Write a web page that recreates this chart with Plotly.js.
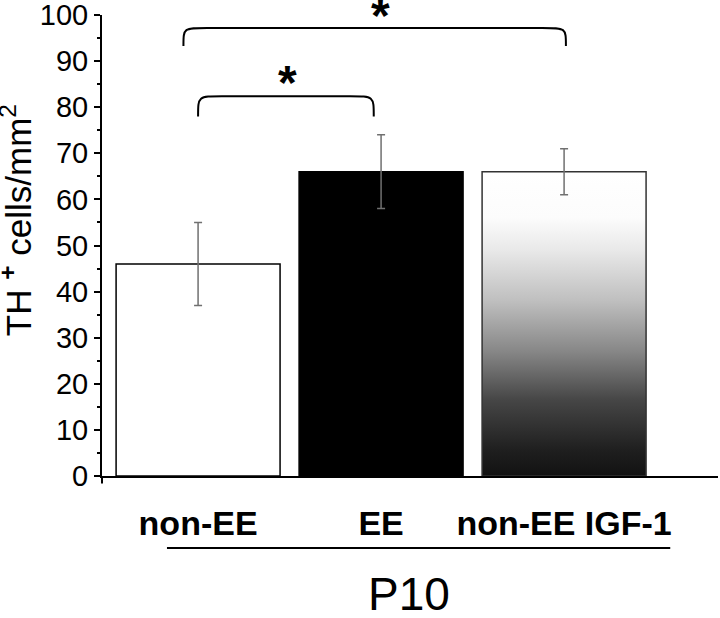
<!DOCTYPE html>
<html>
<head>
<meta charset="utf-8">
<script src="https://cdn.plot.ly/plotly-3.0.1.min.js"></script>
<style>html,body{margin:0;padding:0;background:#fff;}#chart{width:720px;height:618px;}</style>
</head>
<body>
<div id="chart"></div>
<script>
// ---- data ----
const categories = ['non-EE', 'EE', 'non-EE IGF-1'];
const means = [46, 66, 66];
const errors = [9, 8, 5];
const groupLabel = 'P10';
const yTitle = 'TH <sup><b>+</b></sup> cells/mm<sup>2</sup>';
const yTickVals = [0, 10, 20, 30, 40, 50, 60, 70, 80, 90, 100];
// significance brackets: [left x, right x] in category units, top value, drop
const bracketLeft = [0.0, -0.08];
const bracketRight = [0.96, 2.01];
const bracketTop = [82.4, 97.2];
const bracketDrop = [4.4, 3.9];
const starText = ['*', '*'];
const starX = [0.49, 0.995];

// ---- layout constants ----
const starYPaper = [0.8525, 1.0];
const barWidth = 0.896;
const idx = categories.map((_, i) => i);
const gradIdx = 2;

const font = 'Liberation Sans, Arial, Helvetica, sans-serif';

const barTrace = {
  type: 'bar',
  x: idx,
  y: means,
  width: barWidth,
  marker: {
    color: ['#ffffff', '#000000', 'rgba(0,0,0,0)'],
    line: {color: ['#000000', '#000000', 'rgba(0,0,0,0)'], width: 1.5}
  },
  hoverinfo: 'skip',
  showlegend: false
};

// gradient-filled bar polygon for the third group
const gx0 = idx[gradIdx] - barWidth / 2, gx1 = idx[gradIdx] + barWidth / 2;
const gradTrace = {
  type: 'scatter',
  mode: 'lines',
  x: [gx0, gx0, gx1, gx1, gx0],
  y: [0, means[gradIdx], means[gradIdx], 0, 0],
  fill: 'toself',
  fillgradient: {
    type: 'vertical',
    start: 0,
    stop: means[gradIdx],
    colorscale: [
      [0, '#121212'], [0.085, '#1f1f1f'], [0.25, '#464646'], [0.41, '#878787'],
      [0.576, '#bfbfbf'], [0.74, '#e8e8e8'], [0.85, '#fcfcfc'], [1, '#ffffff']
    ]
  },
  line: {color: '#333333', width: 1.5},
  hoverinfo: 'skip',
  showlegend: false
};

const errTrace = {
  type: 'scatter',
  mode: 'markers',
  x: idx,
  y: means,
  marker: {size: 1, color: 'rgba(0,0,0,0)'},
  error_y: {type: 'data', array: errors, visible: true, color: '#707070', thickness: 1.5, width: 4},
  hoverinfo: 'skip',
  showlegend: false
};

const shapes = [];
for (let i = 0; i < bracketLeft.length; i++) {
  const x0 = bracketLeft[i], x1 = bracketRight[i], yt = bracketTop[i], yb = yt - bracketDrop[i];
  const r = 0.13;
  shapes.push({
    type: 'path', xref: 'x', yref: 'y',
    path: `M ${x0},${yb} C ${x0},${yt} ${x0},${yt} ${x0 + r},${yt} L ${x1 - r},${yt} C ${x1},${yt} ${x1},${yt} ${x1},${yb}`,
    line: {color: '#000000', width: 2}
  });
}
// y-axis extends slightly below zero
shapes.push({type: 'line', xref: 'paper', yref: 'paper', x0: 0, x1: 0, y0: 0, y1: -0.016, line: {color: '#000', width: 2}});
// group underline
shapes.push({type: 'line', xref: 'x', yref: 'paper', x0: -0.17, x1: 2.58, y0: -0.156, y1: -0.156, line: {color: '#000', width: 2}});

const annotations = starX.map((sx, i) => ({
  x: sx, y: starYPaper[i], xref: 'x', yref: 'paper', text: '<b>' + starText[i] + '</b>', showarrow: false,
  font: {family: font, size: 48, color: '#000'}, yanchor: 'middle'
}));
annotations.push({
  x: 1.155, y: -0.257, xref: 'x', yref: 'paper', text: groupLabel, showarrow: false,
  font: {family: font, size: 46, color: '#000'}, yanchor: 'middle', height: 46, valign: 'middle'
});
annotations.push({
  x: -0.1396, y: 0.555, xref: 'paper', yref: 'paper', text: yTitle, showarrow: false, textangle: -90,
  font: {family: font, size: 35, color: '#000'}, xanchor: 'center', yanchor: 'middle'
});

const layout = {
  width: 720, height: 618,
  margin: {l: 102, r: 2, t: 15, b: 142},
  paper_bgcolor: '#fff', plot_bgcolor: '#fff',
  showlegend: false,
  xaxis: {
    range: [-0.525, 2.841],
    tickvals: idx, ticktext: categories,
    ticks: '', showgrid: false, zeroline: false,
    showline: true, linecolor: '#000', linewidth: 2,
    tickfont: {family: font, size: 34, color: '#000', weight: 'bold'},
    ticklabelstandoff: 16
  },
  yaxis: {
    range: [0, 100],
    tickvals: yTickVals,
    ticks: 'outside', ticklen: 6, tickwidth: 2, tickcolor: '#000',
    minor: {dtick: 5, ticks: 'outside', ticklen: 3, tickwidth: 2, tickcolor: '#000'},
    showgrid: false, zeroline: false,
    showline: true, linecolor: '#000', linewidth: 2,
    ticklabeloverflow: 'allow',
    tickfont: {family: font, size: 29, color: '#000'}
  },
  shapes: shapes,
  annotations: annotations
};

Plotly.newPlot('chart', [barTrace, gradTrace, errTrace], layout, {staticPlot: true, displayModeBar: false});
</script>
</body>
</html>
